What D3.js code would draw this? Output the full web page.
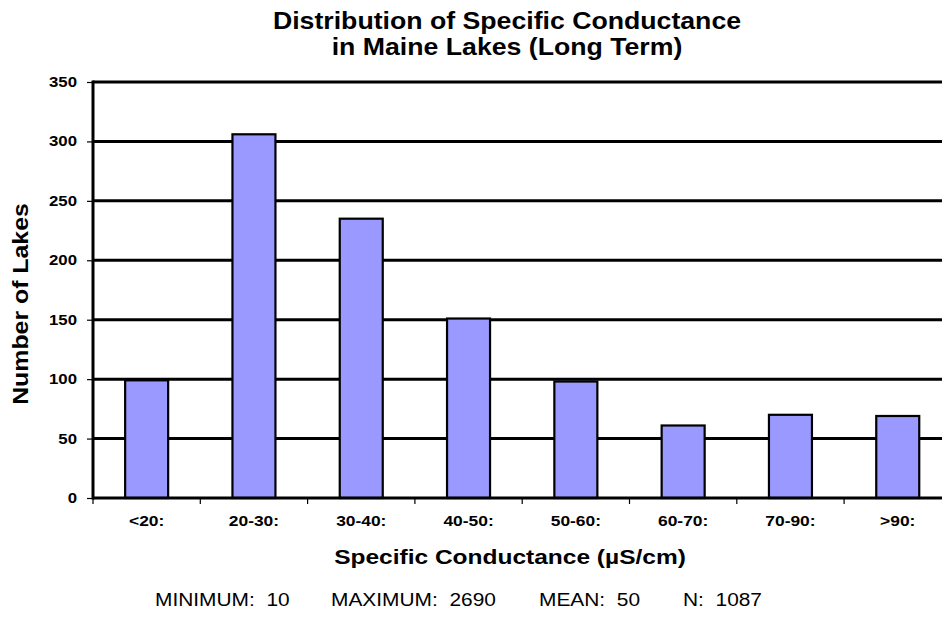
<!DOCTYPE html>
<html><head><meta charset="utf-8">
<script src="https://cdn.jsdelivr.net/npm/d3@7"></script>
<style>body{margin:0;background:#fff;} svg{display:block;font-family:"Liberation Sans",Arial,sans-serif;}</style>
</head><body><svg id="c" width="942" height="638"></svg>
<script>
const categories = ["<20:", "20-30:", "30-40:", "40-50:", "50-60:", "60-70:", "70-90:", ">90:"];
const counts = [99, 306, 235, 151, 98, 61, 70, 69];
const yTicks = [0, 50, 100, 150, 200, 250, 300, 350];
const titleLines = ["Distribution of Specific Conductance", "in Maine Lakes (Long Term)"];
const xTitle = "Specific Conductance (µS/cm)";
const yTitle = "Number of Lakes";
const stats = ["MINIMUM:  10", "MAXIMUM:  2690", "MEAN:  50", "N:  1087"];

const svg = d3.select("#c");
const pLeft = 93, pTop = 82, pBottom = 498, bandW = 107.3;
const xb = d3.scaleBand().domain(categories).range([pLeft, pLeft + bandW * categories.length]);
const y = d3.scaleLinear().domain([0, 350]).range([pBottom, pTop]);

function txt(g, x, yy, s, size, sx, opts = {}) {
  return g.append("text")
    .attr("transform", `translate(${x},${yy})${opts.rot ? " rotate(" + opts.rot + ")" : ""} scale(${sx},1)`)
    .attr("text-anchor", opts.anchor || "middle")
    .attr("font-size", size).attr("font-weight", opts.weight || "bold")
    .attr("xml:space", "preserve").text(s);
}

// gridlines
svg.append("g").selectAll("line").data(yTicks.filter(d => d > 0)).join("line")
  .attr("x1", pLeft).attr("x2", 942).attr("y1", d => y(d)).attr("y2", d => y(d))
  .attr("stroke", "#000").attr("stroke-width", 3);

// bars
svg.append("g").selectAll("rect").data(categories).join("rect")
  .attr("x", d => xb(d) + (bandW - 43) / 2).attr("width", 43)
  .attr("y", (d, i) => y(counts[i])).attr("height", (d, i) => y(0) - y(counts[i]))
  .attr("fill", "#9999ff").attr("stroke", "#000").attr("stroke-width", 2.2);

// y axis ticks and labels
const ya = d3.axisLeft(y).tickValues(yTicks).tickSize(6).tickFormat("");
const gy = svg.append("g").attr("transform", `translate(${pLeft},0)`).call(ya);
gy.select(".domain").remove();
gy.selectAll(".tick line").attr("stroke", "#000").attr("stroke-width", 1.2);
const gyl = svg.append("g");
yTicks.forEach(v => txt(gyl, pLeft - 16, y(v) + 5, String(v), 15, 1.12, {anchor: "end"}));
svg.append("line").attr("x1", pLeft).attr("x2", pLeft).attr("y1", pTop - 1.5).attr("y2", pBottom + 1.5)
  .attr("stroke", "#000").attr("stroke-width", 3);

// x axis
svg.append("line").attr("x1", pLeft).attr("x2", 942).attr("y1", pBottom).attr("y2", pBottom)
  .attr("stroke", "#000").attr("stroke-width", 3);
svg.append("g").selectAll("line").data(categories).join("line")
  .attr("x1", d => xb(d)).attr("x2", d => xb(d)).attr("y1", pBottom).attr("y2", pBottom + 6)
  .attr("stroke", "#000").attr("stroke-width", 1.2);
const gx = svg.append("g");
categories.forEach(c => txt(gx, xb(c) + bandW / 2, 526, c, 14.5, 1.2));

// titles
titleLines.forEach((t, i) => txt(svg, 507, 29 + i * 26, t, 23, 1.16));
txt(svg, 510, 564, xTitle, 21, 1.167);
txt(svg, 28, 304, yTitle, 22, 1.13, {rot: -90});
const statX = [155, 331, 539, 683];
stats.forEach((s, i) => txt(svg, statX[i], 606, s, 19, 1.1, {anchor: "start", weight: "normal"}));
</script></body></html>
